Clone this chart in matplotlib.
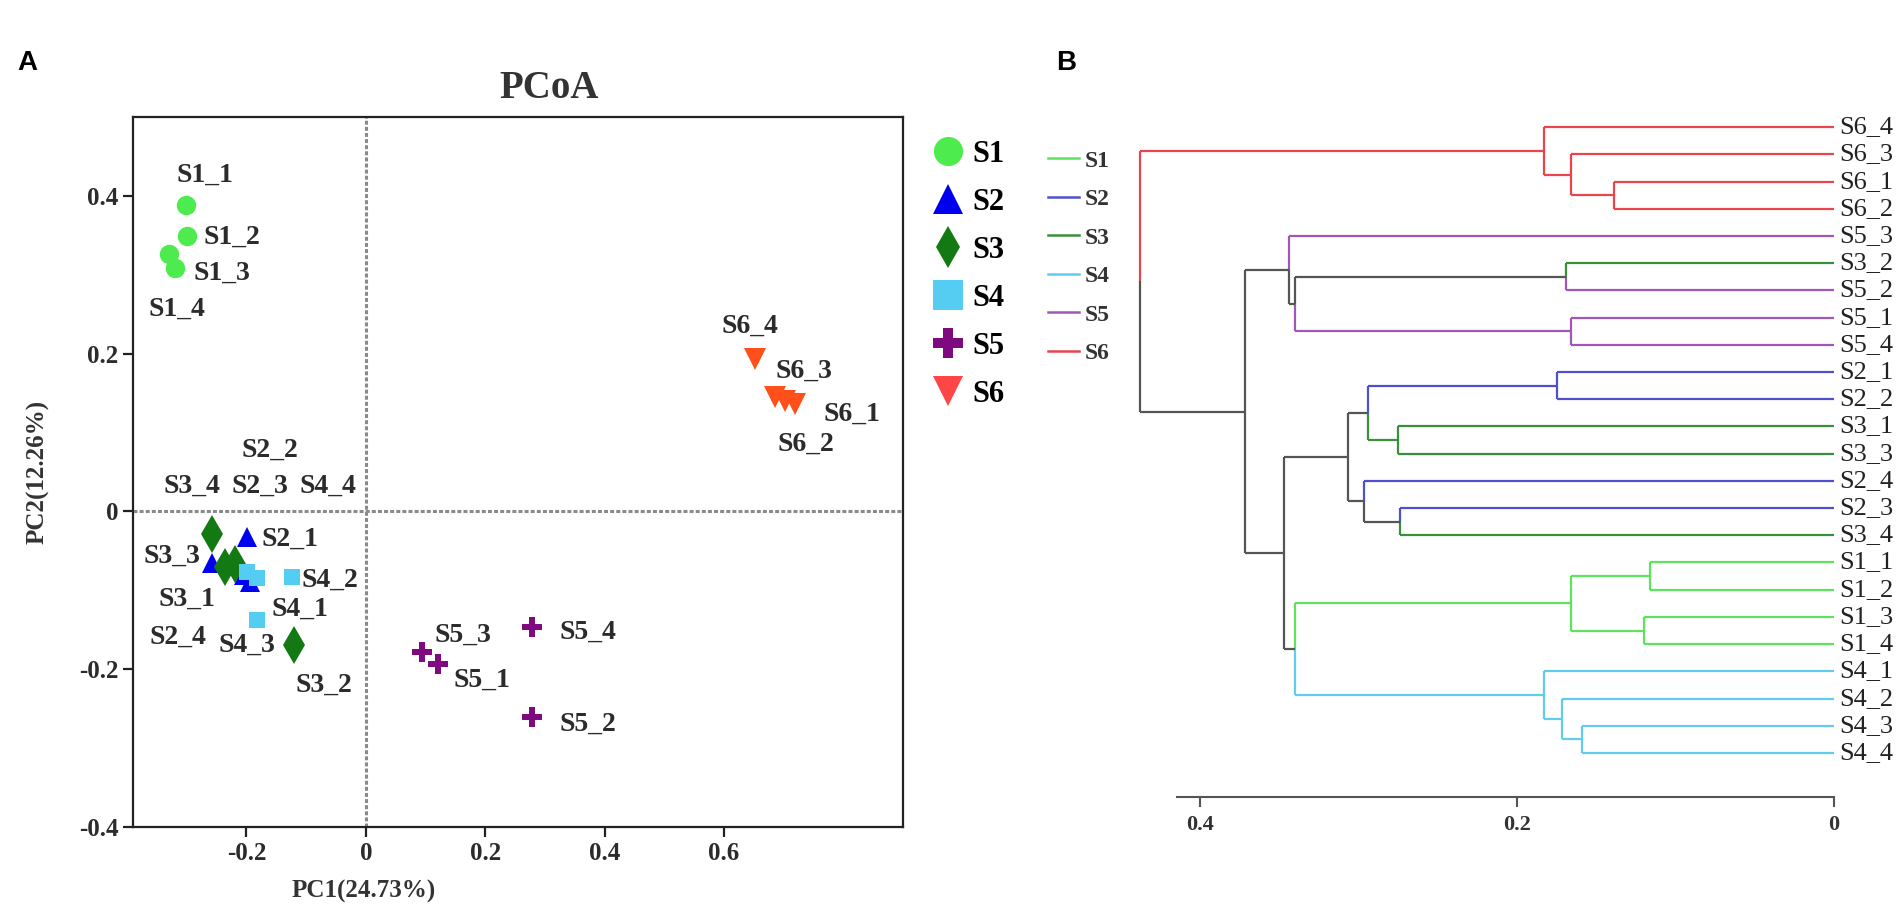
import matplotlib.pyplot as plt
from matplotlib.lines import Line2D

plt.rcParams['font.family'] = ['Liberation Serif', 'DejaVu Serif']

# ---- PCoA scores ----
groups = ['S1', 'S2', 'S3', 'S4', 'S5', 'S6']
samples = ['S1_1', 'S1_2', 'S1_3', 'S1_4',
           'S2_1', 'S2_2', 'S2_3', 'S2_4',
           'S3_1', 'S3_2', 'S3_3', 'S3_4',
           'S4_1', 'S4_2', 'S4_3', 'S4_4',
           'S5_1', 'S5_2', 'S5_3', 'S5_4',
           'S6_1', 'S6_2', 'S6_3', 'S6_4']
pc1 = [-0.302, -0.300, -0.320, -0.330,
       -0.199, -0.194, -0.258, -0.204,
       -0.219, -0.121, -0.236, -0.258,
       -0.183, -0.124, -0.183, -0.199,
       0.121, 0.278, 0.095, 0.278,
       0.719, 0.702, 0.685, 0.652]
pc2 = [0.389, 0.349, 0.309, 0.326,
       -0.032, -0.090, -0.065, -0.080,
       -0.067, -0.169, -0.070, -0.029,
       -0.085, -0.083, -0.138, -0.077,
       -0.194, -0.260, -0.178, -0.146,
       0.136, 0.140, 0.145, 0.193]

# ---- hierarchical clustering (leaf order top to bottom, merges) ----
leaves = ['S6_4', 'S6_3', 'S6_1', 'S6_2', 'S5_3', 'S3_2', 'S5_2', 'S5_1', 'S5_4',
          'S2_1', 'S2_2', 'S3_1', 'S3_3', 'S2_4', 'S2_3', 'S3_4',
          'S1_1', 'S1_2', 'S1_3', 'S1_4', 'S4_1', 'S4_2', 'S4_3', 'S4_4']
merge_left = ['S6_1', 'S6_3', 'S6_4', 'S3_2', 'S5_1', 'n3', 'S5_3', 'S2_1', 'S3_1', 'n7',
              'S2_3', 'S2_4', 'n9', 'S1_1', 'S1_3', 'n13', 'S4_3', 'S4_2', 'S4_1', 'n15',
              'n12', 'n6', 'n2']
merge_right = ['S6_2', 'n0', 'n1', 'S5_2', 'S5_4', 'n4', 'n5', 'S2_2', 'S3_3', 'n8',
               'S3_4', 'n10', 'n11', 'S1_2', 'S1_4', 'n14', 'S4_4', 'n16', 'n17', 'n18',
               'n19', 'n20', 'n21']
merge_height = [0.139, 0.166, 0.183, 0.169, 0.166, 0.340, 0.344, 0.175, 0.275, 0.294,
                0.274, 0.297, 0.307, 0.116, 0.120, 0.166, 0.159, 0.172, 0.183, 0.340,
                0.347, 0.372, 0.438]

# styles
pt_colors = {'S1': '#4DEB4D', 'S2': '#0000F0', 'S3': '#137A13', 'S4': '#55CDF3',
             'S5': '#7F0A80', 'S6': '#FF4F1A'}
leg_colors = {'S1': '#4DEB4D', 'S2': '#0000F0', 'S3': '#137A13', 'S4': '#55CDF3',
              'S5': '#7F0A80', 'S6': '#FF4646'}
markers = {'S1': 'o', 'S2': '^', 'S3': 'd', 'S4': 's', 'S5': 'P', 'S6': 'v'}
msizes = {'S1': 14, 'S2': 15, 'S3': 19, 'S4': 11, 'S5': 15, 'S6': 16}
tree_colors = {'S1': '#5FE35F', 'S2': '#5050CC', 'S3': '#3A8F3A', 'S4': '#62CBF0',
               'S5': '#A057B8', 'S6': '#E8454C'}
gray = '#555555'

# label offsets in pixels (dx right, dy down)
lab_off = {'S1_1': (19, -29), 'S1_2': (45, 1), 'S1_3': (47, 6), 'S1_4': (8, 55),
           'S2_1': (43, 3), 'S2_2': (20, -132), 'S2_3': (48, -76), 'S2_4': (-66, 63),
           'S3_1': (-48, 35), 'S3_2': (30, 40), 'S3_3': (-53, -10), 'S3_4': (-20, -48),
           'S4_1': (43, 31), 'S4_2': (38, 3), 'S4_3': (-10, 25), 'S4_4': (81, -86),
           'S5_1': (44, 16), 'S5_2': (56, 8), 'S5_3': (40, -17), 'S5_4': (56, 6),
           'S6_1': (57, 10), 'S6_2': (21, 43), 'S6_3': (29, -26), 'S6_4': (-5, -33)}

W, H = 1904, 921
fig = plt.figure(figsize=(W / 100, H / 100), dpi=100)

# ================= panel A =================
ax = fig.add_axes([133 / W, 1 - 827 / H, 770 / W, 710 / H])
ax.axhline(0, color='#8a8a8a', lw=2.2, ls=(0, (1.3, 0.7)), zorder=1)
ax.axvline(0, color='#8a8a8a', lw=2.2, ls=(0, (1.3, 0.7)), zorder=1)

for g in groups:
    xs = [pc1[i] for i, s in enumerate(samples) if s.startswith(g + '_')]
    ys = [pc2[i] for i, s in enumerate(samples) if s.startswith(g + '_')]
    ax.plot(xs, ys, ls='none', marker=markers[g], ms=msizes[g], color=pt_colors[g],
            mew=0, zorder=3)

for i, s in enumerate(samples):
    dx, dy = lab_off[s]
    ax.annotate(s, (pc1[i], pc2[i]), xytext=(dx * 0.72, -dy * 0.72),
                textcoords='offset points', ha='center', va='center',
                fontsize=20, fontweight='bold', color='#2b2b2b', zorder=4)

ax.set_xlim(-0.39, 0.9)
ax.set_ylim(-0.4, 0.5)
ax.set_xticks([-0.2, 0, 0.2, 0.4, 0.6])
ax.set_xticklabels(['-0.2', '0', '0.2', '0.4', '0.6'])
ax.set_yticks([-0.4, -0.2, 0, 0.2, 0.4])
ax.set_yticklabels(['-0.4', '-0.2', '0', '0.2', '0.4'])
ax.tick_params(labelsize=18, width=1.6, length=7, color='#222')
for lab in ax.get_xticklabels() + ax.get_yticklabels():
    lab.set_fontweight('bold')
    lab.set_color('#2b2b2b')
for sp in ax.spines.values():
    sp.set_linewidth(1.6)
    sp.set_color('#222')
ax.set_xlabel('PC1(24.73%)', fontsize=18, fontweight='bold', color='#333')
ax.set_ylabel('PC2(12.26%)', fontsize=18, fontweight='bold', color='#333')
ax.xaxis.set_label_coords(0.30, -0.075)
ax.yaxis.set_label_coords(-0.108, 0.5)

fig.text(549 / W, 1 - 88 / H, 'PCoA', fontsize=28, fontweight='bold', color='#333',
         ha='center', va='center')

handles = [Line2D([], [], ls='none', marker=markers[g], ms=21, color=leg_colors[g], mew=0)
           for g in groups]
fig.legend(handles, groups, loc='upper left', bbox_to_anchor=(933 / W, 1 - 140 / H),
           frameon=False, prop={'size': 22, 'weight': 'bold'}, handlelength=1.0,
           handletextpad=0.3, labelspacing=0.62, borderpad=0, borderaxespad=0)

fig.text(17 / W, 1 - 63 / H, 'A', fontsize=20, fontweight='bold', family='Liberation Sans',
         ha='left', va='center')
fig.text(1056 / W, 1 - 63 / H, 'B', fontsize=20, fontweight='bold', family='Liberation Sans',
         ha='left', va='center')

# ================= panel B =================
bx = fig.add_axes([1120 / W, 1 - 797 / H, 714 / W, 697 / H])
pos = {}
for i, lf in enumerate(leaves):
    pos[lf] = (0.0, float(i), lf.split('_')[0])
for k in range(len(merge_height)):
    hl, yl, gl = pos[merge_left[k]]
    hr, yr, gr = pos[merge_right[k]]
    h = merge_height[k]
    y = (yl + yr) / 2
    for hc, yc, gc in [(hl, yl, gl), (hr, yr, gr)]:
        col = tree_colors[gc] if gc else gray
        bx.plot([h, hc], [yc, yc], color=col, lw=1.6, solid_capstyle='butt')
        bx.plot([h, h], [y, yc], color=col, lw=1.6, solid_capstyle='butt')
    pos['n%d' % k] = (h, y, gl if gl == gr else None)

for i, lf in enumerate(leaves):
    bx.annotate(lf, (0, i), xytext=(4, 0), textcoords='offset points', ha='left',
                va='center', fontsize=19, color='#222', annotation_clip=False)

bx.set_xlim(0.4508, 0)
bx.set_ylim(24.62, -1.0)
for s in ['top', 'right', 'left']:
    bx.spines[s].set_visible(False)
bx.spines['bottom'].set_bounds(0, 0.415)
bx.spines['bottom'].set_color('#555')
bx.spines['bottom'].set_linewidth(1.5)
bx.set_yticks([])
bx.set_xticks([0.4, 0.2, 0])
bx.set_xticklabels(['0.4', '0.2', '0'])
bx.tick_params(axis='x', labelsize=16, color='#555', width=1.5, length=7, pad=6)
for lab in bx.get_xticklabels():
    lab.set_fontweight('bold')
    lab.set_color('#333')

thandles = [Line2D([], [], color=tree_colors[g], lw=1.8) for g in groups]
fig.legend(thandles, groups, loc='upper left', bbox_to_anchor=(1048 / W, 1 - 150 / H),
           frameon=False, prop={'size': 17, 'weight': 'bold'}, handlelength=1.3,
           handletextpad=0.25, labelspacing=0.72, borderpad=0, borderaxespad=0,
           labelcolor='#333')

fig.savefig('out.png', dpi=100)
